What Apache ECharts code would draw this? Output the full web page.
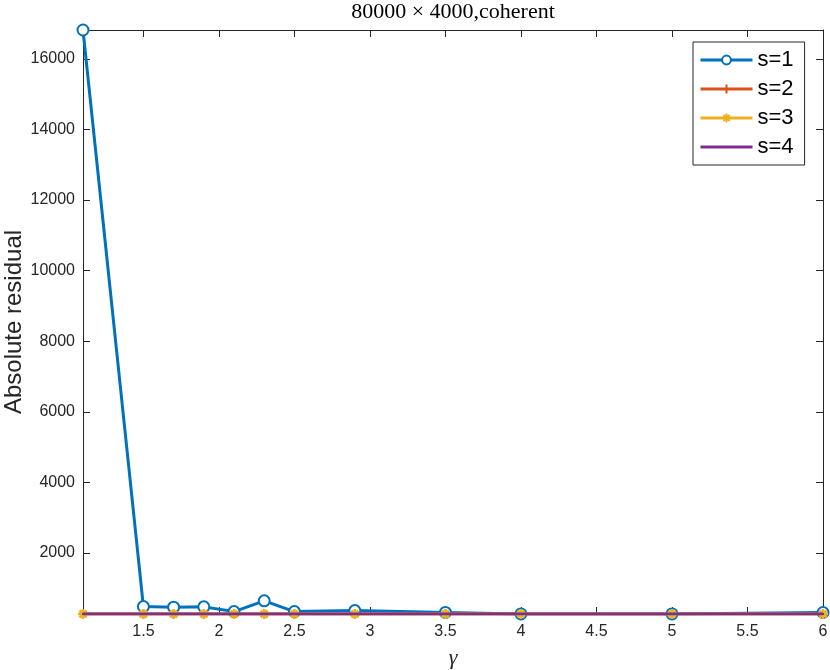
<!DOCTYPE html>
<html>
<head>
<meta charset="utf-8">
<script src="https://cdn.jsdelivr.net/npm/echarts@6/dist/echarts.min.js"></script>
<style>html,body{margin:0;padding:0;background:#fff}#c{width:830px;height:670px}</style>
</head>
<body>
<div id="c"></div>
<script>
const gammaValues = [1.1, 1.5, 1.7, 1.9, 2.1, 2.3, 2.5, 2.9, 3.5, 4, 5, 6];
const s1 = [16820, 478, 461, 470, 336, 640, 336, 365, 314, 271, 270, 310];
const s2 = [268, 268, 268, 268, 268, 268, 268, 268, 268, 268, 268, 268];
const s3 = [268, 268, 268, 268, 268, 268, 268, 268, 268, 268, 268, 268];
const s4 = [268, 268, 268, 268, 268, 268, 268, 268, 268, 268, 268, 268];
const seriesNames = ['s=1', 's=2', 's=3', 's=4'];
const xTicks = [1.5, 2, 2.5, 3, 3.5, 4, 4.5, 5, 5.5, 6];
const yTicks = [2000, 4000, 6000, 8000, 10000, 12000, 14000, 16000];
const xMin = 1.1, xMax = 6, yMin = 268, yMax = 16820;

const colors = ['#0072BD', '#D95319', '#EDB120', '#7E2F8E'];
const axisColor = '#262626';
const pair = (ys) => gammaValues.map((x, i) => [x, ys[i]]);

const plusPath = 'path://M5 0 L5 10 M0 5 L10 5';
const starPath = 'path://M5 0 L5 10 M0 5 L10 5 M1.5 1.5 L8.5 8.5 M8.5 1.5 L1.5 8.5';
const dotPath = 'path://M0 0 M10 10 M4 4 L6 4 L6 6 L4 6 Z';

const chart = echarts.init(document.getElementById('c'), null, {renderer: 'canvas'});
const baseX = {
  type: 'value', min: xMin, max: xMax,
  axisLine: {show: true, onZero: false, lineStyle: {color: axisColor, width: 1}},
  splitLine: {show: false}
};
const baseY = {
  type: 'value', min: yMin, max: yMax,
  axisLine: {show: true, onZero: false, lineStyle: {color: axisColor, width: 1}},
  splitLine: {show: false}
};
chart.setOption({
  animation: false,
  backgroundColor: '#fff',
  grid: {left: 83, right: 7, top: 30, bottom: 56, containLabel: false, outerBoundsMode: 'none'},
  graphic: [{
    type: 'text', x: 453, y: 12,
    style: {text: '80000 × 4000,coherent', font: '22px "Liberation Serif"', fill: '#000',
      align: 'center', verticalAlign: 'middle'}
  }],
  xAxis: [
    Object.assign({}, baseX, {
      position: 'bottom',
      name: 'γ', nameLocation: 'middle', nameGap: 33, nameMoveOverlap: false,
      nameTextStyle: {fontFamily: 'Liberation Serif', fontStyle: 'italic', fontSize: 22, color: '#262626'},
      axisTick: {show: true, inside: true, length: 7, customValues: xTicks, lineStyle: {color: axisColor}},
      axisLabel: {show: true, customValues: xTicks, margin: 10, fontSize: 16, fontFamily: 'Liberation Sans', color: '#262626',
        formatter: (v) => String(v)}
    }),
    Object.assign({}, baseX, {
      position: 'top',
      axisTick: {show: true, inside: true, length: 7, customValues: xTicks, lineStyle: {color: axisColor}},
      axisLabel: {show: false}
    })
  ],
  yAxis: [
    Object.assign({}, baseY, {
      position: 'left',
      name: 'Absolute residual', nameLocation: 'middle', nameGap: 57, nameRotate: 90, nameMoveOverlap: false,
      nameTextStyle: {fontFamily: 'Liberation Sans', fontSize: 24, color: '#262626'},
      axisTick: {show: true, inside: true, length: 7, customValues: yTicks, lineStyle: {color: axisColor}},
      axisLabel: {show: true, customValues: yTicks, margin: 8, fontSize: 16, fontFamily: 'Liberation Sans', color: '#262626',
        formatter: (v) => String(v)}
    }),
    Object.assign({}, baseY, {
      position: 'right',
      axisTick: {show: true, inside: true, length: 7, customValues: yTicks, lineStyle: {color: axisColor}},
      axisLabel: {show: false}
    })
  ],
  legend: {
    orient: 'vertical', left: 693, top: 42,
    padding: [7, 11, 7, 6], itemGap: 7, itemWidth: 52, itemHeight: 11,
    backgroundColor: '#fff', borderColor: axisColor, borderWidth: 1,
    lineStyle: {width: 3},
    textStyle: {fontFamily: 'Liberation Sans', fontSize: 22, color: '#000', lineHeight: 22},
    data: seriesNames
  },
  series: [
    {
      name: seriesNames[0], type: 'line', data: pair(s1), z: 2,
      symbol: 'emptyCircle', symbolSize: 11,
      lineStyle: {color: colors[0], width: 3},
      itemStyle: {color: colors[0], borderColor: colors[0], borderWidth: 2.5}
    },
    {
      name: seriesNames[1], type: 'line', data: pair(s2), z: 3,
      symbol: plusPath, symbolSize: 9,
      lineStyle: {color: colors[1], width: 3},
      itemStyle: {color: colors[1], borderColor: colors[1], borderWidth: 2}
    },
    {
      name: seriesNames[2], type: 'line', data: pair(s3), z: 4,
      symbol: starPath, symbolSize: 10,
      lineStyle: {color: colors[2], width: 3},
      itemStyle: {color: colors[2], borderColor: colors[2], borderWidth: 2.5}
    },
    {
      name: seriesNames[3], type: 'line', data: pair(s4), z: 5,
      symbol: dotPath, symbolSize: 10,
      lineStyle: {color: colors[3], width: 3},
      itemStyle: {color: colors[3], borderColor: colors[3], borderWidth: 0}
    }
  ]
});
</script>
</body>
</html>
